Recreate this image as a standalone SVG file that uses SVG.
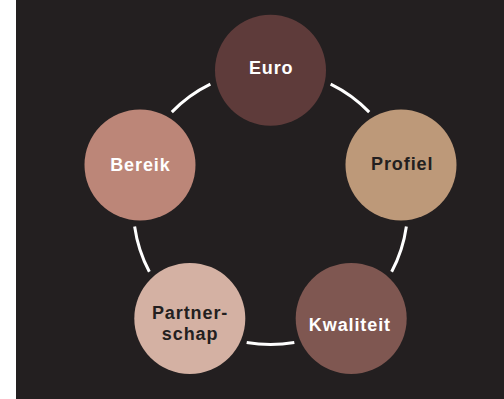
<svg xmlns="http://www.w3.org/2000/svg" width="504" height="399" viewBox="0 0 504 399">
<style>
.lbl{font-family:"Liberation Sans",Arial,sans-serif;font-weight:700;font-size:18px;letter-spacing:0.9px;text-anchor:middle}
.lt{fill:#ffffff}
.dk{fill:#231f20}
.arc{fill:none;stroke:#ffffff;stroke-width:3}
</style>
<rect x="0" y="0" width="504" height="399" fill="#ffffff"/>
<rect x="16" y="0" width="488" height="399" fill="#231f20"/>
<g id="connectors">
<path class="arc" d="M330.65 84.09 A137.2 137.2 0 0 1 369.19 112.09"/>
<path class="arc" d="M406.37 226.5 A137.2 137.2 0 0 1 391.64 271.81"/>
<path class="arc" d="M294.32 342.51 A137.2 137.2 0 0 1 246.68 342.51"/>
<path class="arc" d="M149.36 271.81 A137.2 137.2 0 0 1 134.63 226.5"/>
<path class="arc" d="M171.81 112.09 A137.2 137.2 0 0 1 210.35 84.09"/>
</g>
<g id="euro">
<circle cx="270.5" cy="70.2" r="55.5" fill="#5e3b3a"/>
<text class="lbl lt" x="271.2" y="74">Euro</text>
</g>
<g id="profiel">
<circle cx="401" cy="165" r="55.5" fill="#bd9979"/>
<text class="lbl dk" x="402.2" y="170">Profiel</text>
</g>
<g id="kwaliteit">
<circle cx="351.2" cy="318.4" r="55.5" fill="#7f5751"/>
<text class="lbl lt" x="349.9" y="331">Kwaliteit</text>
</g>
<g id="partnerschap">
<circle cx="189.8" cy="318.4" r="55.5" fill="#d4b1a3"/>
<text class="lbl dk" x="190.1" y="319">Partner-</text>
<text class="lbl dk" x="190.1" y="339.5">schap</text>
</g>
<g id="bereik">
<circle cx="140" cy="165" r="55.5" fill="#bc8678"/>
<text class="lbl lt" x="140.4" y="170.5">Bereik</text>
</g>
</svg>
